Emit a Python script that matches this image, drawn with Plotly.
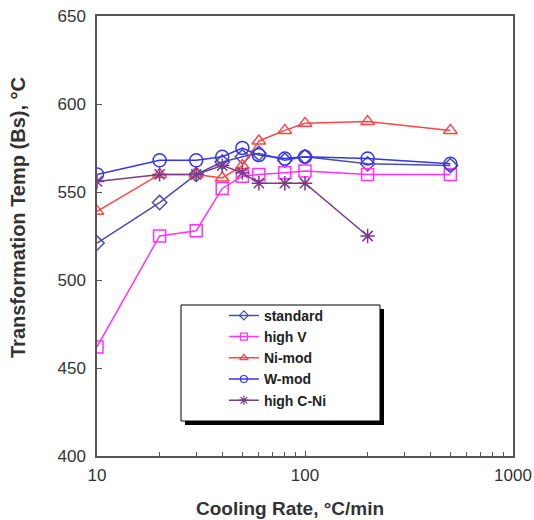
import plotly.graph_objects as go

cooling_rate = [10, 20, 30, 40, 50, 60, 80, 100, 200, 500]
rate_high_c_ni = [10, 20, 30, 40, 50, 60, 80, 100, 200]

standard = [521, 544, 560, 567, 570, 572, 568, 570, 566, 565]
high_v = [462, 525, 528, 552, 559, 560, 561, 562, 560, 560]
ni_mod = [539, 560, 560, 558, 565, 579, 585, 589, 590, 585]
w_mod = [560, 568, 568, 570, 575, 571, 569, 570, 569, 566]
high_c_ni = [556, 560, 560, 565, 561, 555, 555, 555, 525]

y_ticks = [400, 450, 500, 550, 600, 650]
x_ticks = [10, 100, 1000]
x_minor = [20, 30, 40, 50, 60, 70, 80, 90, 200, 300, 400, 500, 600, 700, 800, 900]

series = [
    ("standard", cooling_rate, standard, "#4b4bb0", "diamond-open", 11, 7),
    ("high V", cooling_rate, high_v, "#ff33ff", "square-open", 12, 7),
    ("Ni-mod", cooling_rate, ni_mod, "#ff4545", "triangle-up-open", 12, 7),
    ("W-mod", cooling_rate, w_mod, "#3535ee", "circle-open", 13, 7),
    ("high C-Ni", rate_high_c_ni, high_c_ni, "#7a3a8a", "asterisk-open", 12, 8),
]

fig = go.Figure()
for name, xs, ys, color, sym, size, lsize in series:
    fig.add_trace(go.Scatter(
        x=xs, y=ys, name=name, mode="lines+markers", showlegend=False,
        line=dict(color=color, width=1.5),
        marker=dict(symbol=sym, size=size, color=color, line=dict(color=color, width=1.5)),
    ))
# legend-only entries with small symbols, as in the original legend
for name, xs, ys, color, sym, size, lsize in series:
    fig.add_trace(go.Scatter(
        x=[None], y=[None], name=name, mode="lines+markers",
        line=dict(color=color, width=1.5),
        marker=dict(symbol=sym, size=lsize, color=color, line=dict(color=color, width=1.2)),
    ))

axis_font = dict(family="Liberation Sans, Arial", size=17, color="#333")

fig.update_layout(
    width=534, height=520,
    margin=dict(l=97, r=21, t=16, b=64),
    paper_bgcolor="white", plot_bgcolor="white",
    showlegend=True,
    legend=dict(
        x=0.305, y=0.355, xanchor="left", yanchor="top",
        bgcolor="rgba(0,0,0,0)", borderwidth=0,
        font=dict(family="Liberation Sans, Arial", size=14, color="#222", weight="bold"),
        itemwidth=30, tracegroupgap=0,
    ),
    xaxis=dict(
        type="log", range=[1, 3], automargin=False,
        tickvals=x_ticks, ticktext=[str(v) for v in x_ticks],
        ticks="inside", ticklen=5, tickcolor="#555", ticklabelstandoff=3,
        ticklabeloverflow="allow",
        minor=dict(tickvals=x_minor, ticks="inside", ticklen=4, tickcolor="#555", showgrid=False),
        showline=True, linecolor="#555", linewidth=1.5, mirror=True,
        showgrid=False, zeroline=False,
        tickfont=axis_font,
    ),
    yaxis=dict(
        range=[400, 650], tickvals=y_ticks, automargin=False,
        ticks="inside", ticklen=5, tickcolor="#555", ticklabelstandoff=6,
        ticklabeloverflow="allow",
        showline=True, linecolor="#555", linewidth=1.5, mirror=True,
        showgrid=False, zeroline=False,
        tickfont=axis_font,
    ),
)

fig.add_annotation(text="<b>Cooling Rate, °C/min</b>", xref="paper", yref="paper",
                   x=(290 - 97) / 416, y=(456 - 508) / 440, xanchor="center", yanchor="middle",
                   showarrow=False, font=dict(family="Liberation Sans, Arial", size=19, color="#333"))
fig.add_annotation(text="<b>Transformation Temp (Bs), °C</b>", xref="paper", yref="paper",
                   x=(18 - 97) / 416, y=(456 - 218) / 440, xanchor="center", yanchor="middle",
                   textangle=-90, showarrow=False,
                   font=dict(family="Liberation Sans, Arial", size=20, color="#333"))

# legend frame with drop shadow
fig.add_shape(type="rect", xref="paper", yref="paper",
              x0=(185 - 97) / 416, x1=(384 - 97) / 416,
              y0=(456 - 425) / 440, y1=(456 - 309) / 440,
              fillcolor="black", line=dict(width=0), layer="above")
fig.add_shape(type="rect", xref="paper", yref="paper",
              x0=(181 - 97) / 416, x1=(380 - 97) / 416,
              y0=(456 - 421) / 440, y1=(456 - 305) / 440,
              fillcolor="white", line=dict(color="black", width=1), layer="above")

fig.write_html(
    "out.html",
    config={"displayModeBar": False},
    post_script="document.body.style.margin='0';document.body.style.overflow='hidden';",
)
